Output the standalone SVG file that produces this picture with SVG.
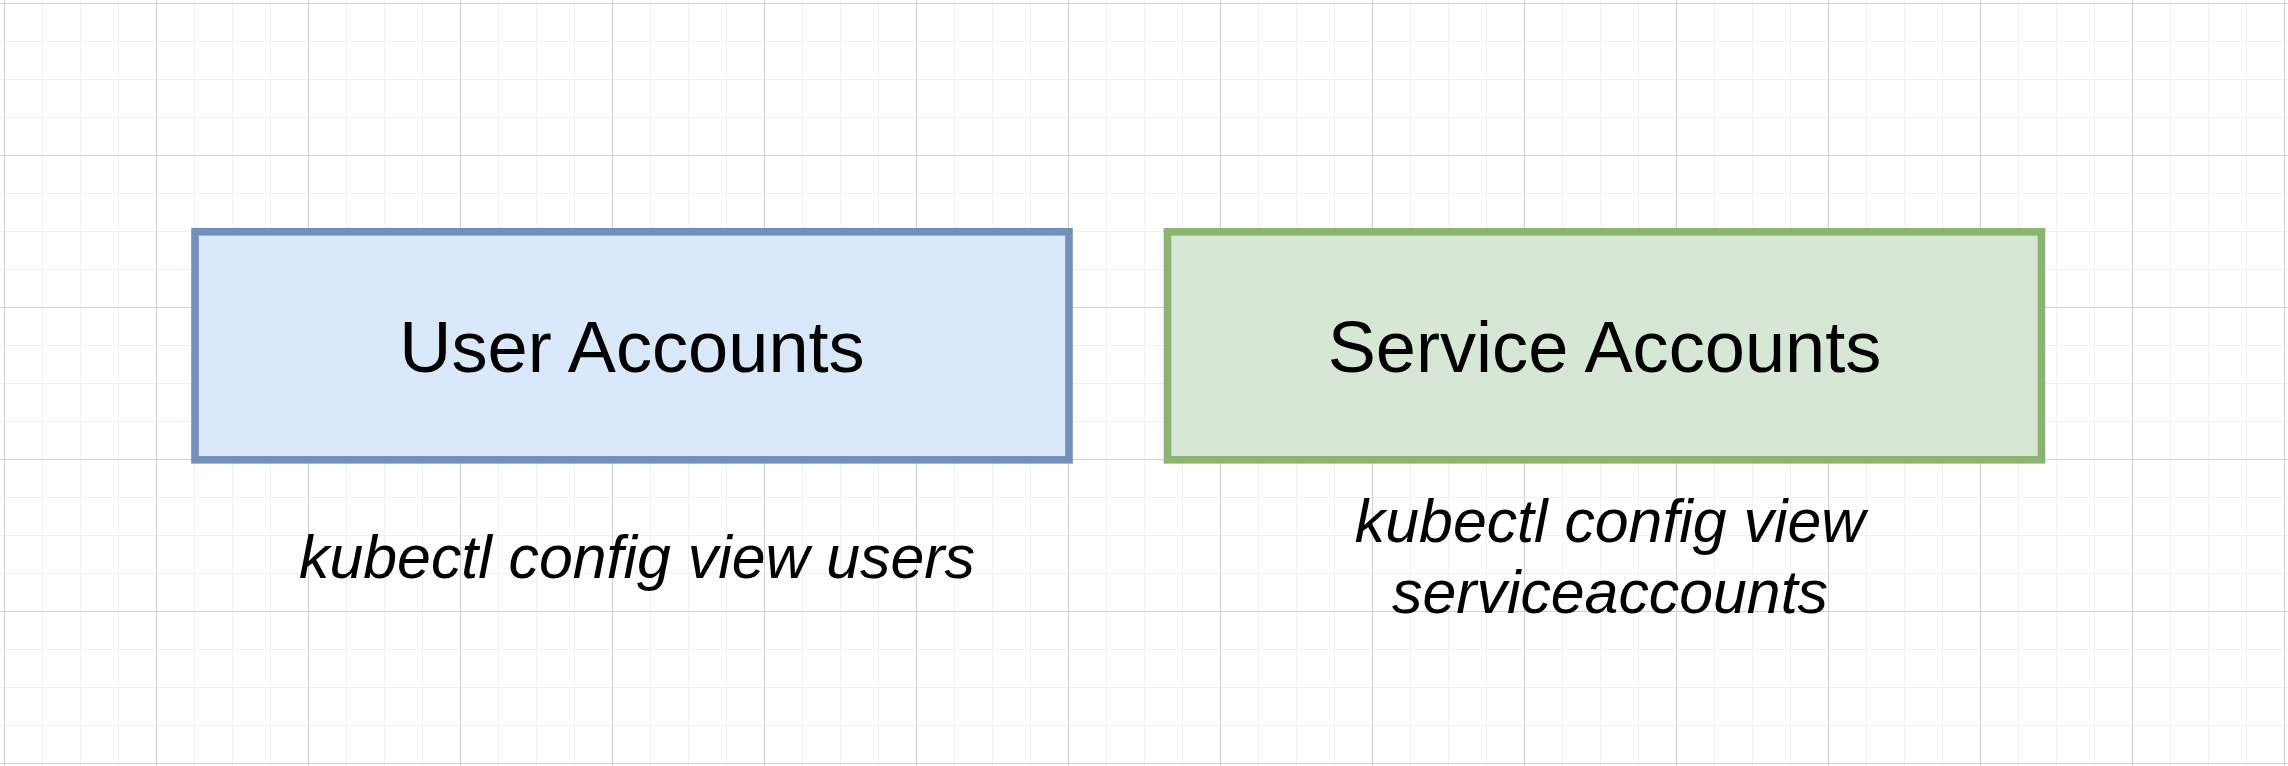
<svg xmlns="http://www.w3.org/2000/svg" width="2288" height="766" viewBox="0 0 2288 766">
  <style>
    .title { font-family: "Liberation Sans", Arial, sans-serif; font-size: 72.2px; fill: #000000; text-anchor: middle; }
    .cmd { font-family: "Liberation Sans", Arial, sans-serif; font-size: 60.8px; font-style: italic; fill: #000000; text-anchor: middle; }
    .minor { stroke: #f0f0f0; stroke-width: 1; }
    .major { stroke: #d0d0d0; stroke-width: 1; }
  </style>
  <defs>
    <pattern id="grid" patternUnits="userSpaceOnUse" x="4" y="3" width="152" height="152">
      <line class="minor" x1="38.5" y1="0" x2="38.5" y2="152"/>
      <line class="minor" x1="76.5" y1="0" x2="76.5" y2="152"/>
      <line class="minor" x1="114.5" y1="0" x2="114.5" y2="152"/>
      <line class="minor" x1="0" y1="38.5" x2="152" y2="38.5"/>
      <line class="minor" x1="0" y1="76.5" x2="152" y2="76.5"/>
      <line class="minor" x1="0" y1="114.5" x2="152" y2="114.5"/>
      <line class="major" x1="0.5" y1="0" x2="0.5" y2="152"/>
      <line class="major" x1="0" y1="0.5" x2="152" y2="0.5"/>
    </pattern>
  </defs>
  <rect x="0" y="0" width="2288" height="766" fill="#ffffff"/>
  <rect x="0" y="0" width="2288" height="766" fill="url(#grid)"/>
  <g id="connectors"></g>
  <g id="user-accounts">
    <rect x="195" y="231.8" width="874" height="228" fill="#dae8fc" stroke="#7390bd" stroke-width="7.6"/>
    <text class="title" x="632" y="372">User Accounts</text>
  </g>
  <g id="service-accounts">
    <rect x="1167.5" y="231.8" width="874" height="228" fill="#d7e7d6" stroke="#8bb46f" stroke-width="7.6"/>
    <text class="title" x="1604.5" y="372">Service Accounts</text>
  </g>
  <g id="user-accounts-command">
    <text class="cmd" x="637" y="578">kubectl config view users</text>
  </g>
  <g id="service-accounts-command">
    <text class="cmd" x="1610" y="541.5">kubectl config view</text>
    <text class="cmd" x="1610" y="613.3">serviceaccounts</text>
  </g>
</svg>
